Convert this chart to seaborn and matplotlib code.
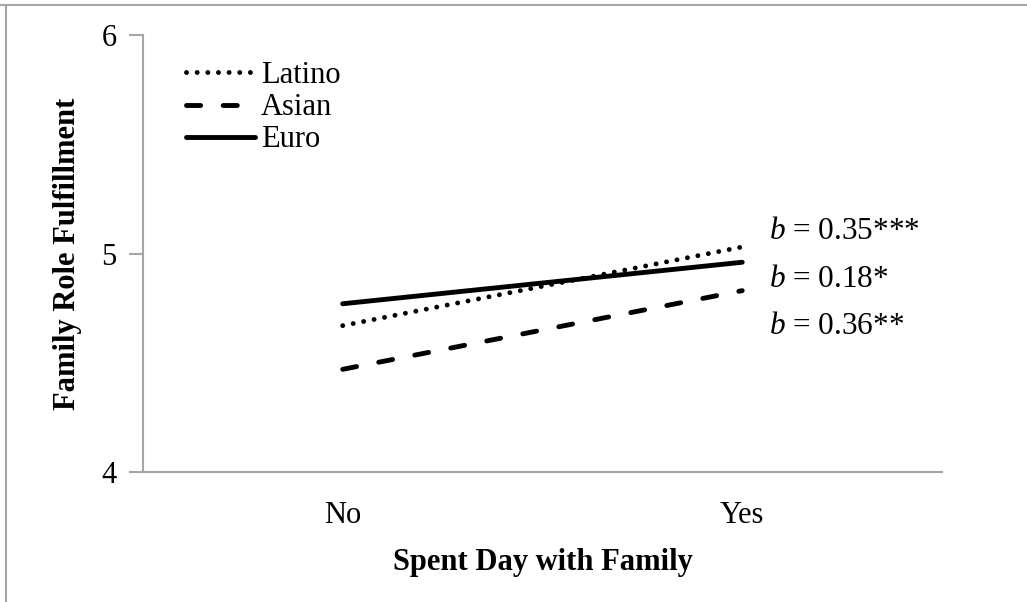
import matplotlib
matplotlib.use("Agg")
import matplotlib.pyplot as plt
from matplotlib.lines import Line2D
import seaborn as sns
import pandas as pd

# Simple-slope means by group
days = ["No", "Yes"]
groups = ["Latino", "Asian", "Euro"]
latino = [4.67, 5.03]
asian = [4.47, 4.83]
euro = [4.77, 4.96]
slope_labels = ["0.35***", "0.18*", "0.36**"]
label_y = [5.10, 4.88, 4.665]

df = pd.DataFrame({
    "day": days * 3,
    "score": latino + asian + euro,
    "group": [g for g in groups for _ in days],
})

sns.set_theme(style="white")
plt.rcParams["font.family"] = ["Liberation Serif", "DejaVu Serif"]
plt.rcParams["mathtext.fontset"] = "custom"
plt.rcParams["mathtext.rm"] = "Liberation Serif"
plt.rcParams["mathtext.it"] = "Liberation Serif:italic"
plt.rcParams["text.color"] = "black"
plt.rcParams["axes.labelcolor"] = "black"
plt.rcParams["xtick.color"] = "black"
plt.rcParams["ytick.color"] = "black"

fig = plt.figure(figsize=(10.27, 6.02), dpi=100)
ax = fig.add_axes([0.1392, 0.2159, 0.778, 0.7260])

lw = 3.5
dash_map = {"Latino": (0.01, 2.18), "Asian": (2.9, 4.65), "Euro": ""}
sns.lineplot(data=df, x="day", y="score", hue="group", style="group",
             palette={g: "black" for g in groups}, dashes=dash_map,
             linewidth=lw, legend=False, ax=ax, sort=False)
for ln in ax.lines:
    ln.set_dash_capstyle("round")
    ln.set_solid_capstyle("round")

ax.set_xlim(-0.5, 1.5)
ax.set_ylim(4, 6)
ax.set_yticks([4, 5, 6])
ax.set_yticklabels(["4", "5", "6"])

grey = "#a6a6a6"
for side in ["top", "right"]:
    ax.spines[side].set_visible(False)
for side in ["left", "bottom"]:
    ax.spines[side].set_color(grey)
    ax.spines[side].set_linewidth(1.5)
ax.tick_params(axis="y", direction="out", length=10, width=1.5, color=grey,
               labelcolor="black", labelsize=22, pad=9, left=True)
ax.tick_params(axis="x", length=0, labelsize=22, pad=21, labelcolor="black")

ax.set_xlabel("Spent Day with Family", fontsize=22, fontweight="bold", labelpad=13)
ax.set_ylabel("Family Role Fulfillment", fontsize=22, fontweight="bold", labelpad=14)

for txt, yv in zip(slope_labels, label_y):
    ax.text(1.068, yv, r"$b$ = " + txt, fontsize=22.5, va="center", ha="left")

handles = []
for g in groups:
    h = Line2D([], [], color="black", linewidth=lw)
    if dash_map[g]:
        h.set_dashes(dash_map[g])
    else:
        h.set_linestyle("-")
    h.set_dash_capstyle("round")
    h.set_solid_capstyle("round")
    handles.append(h)
leg = ax.legend(handles, groups, loc="upper left", bbox_to_anchor=(0.039, 0.968),
                frameon=False, fontsize=22, handlelength=2.25, handletextpad=0.2,
                labelspacing=0.1, borderaxespad=0)

# outer chart border (top and left edges)
fig.add_artist(Line2D([0, 1], [0.992, 0.992], color=grey, linewidth=1.5,
                      transform=fig.transFigure))
fig.add_artist(Line2D([0.0061, 0.0061], [0, 0.992], color=grey, linewidth=1.5,
                      transform=fig.transFigure))

fig.savefig("out.png", dpi=100, facecolor="white")
